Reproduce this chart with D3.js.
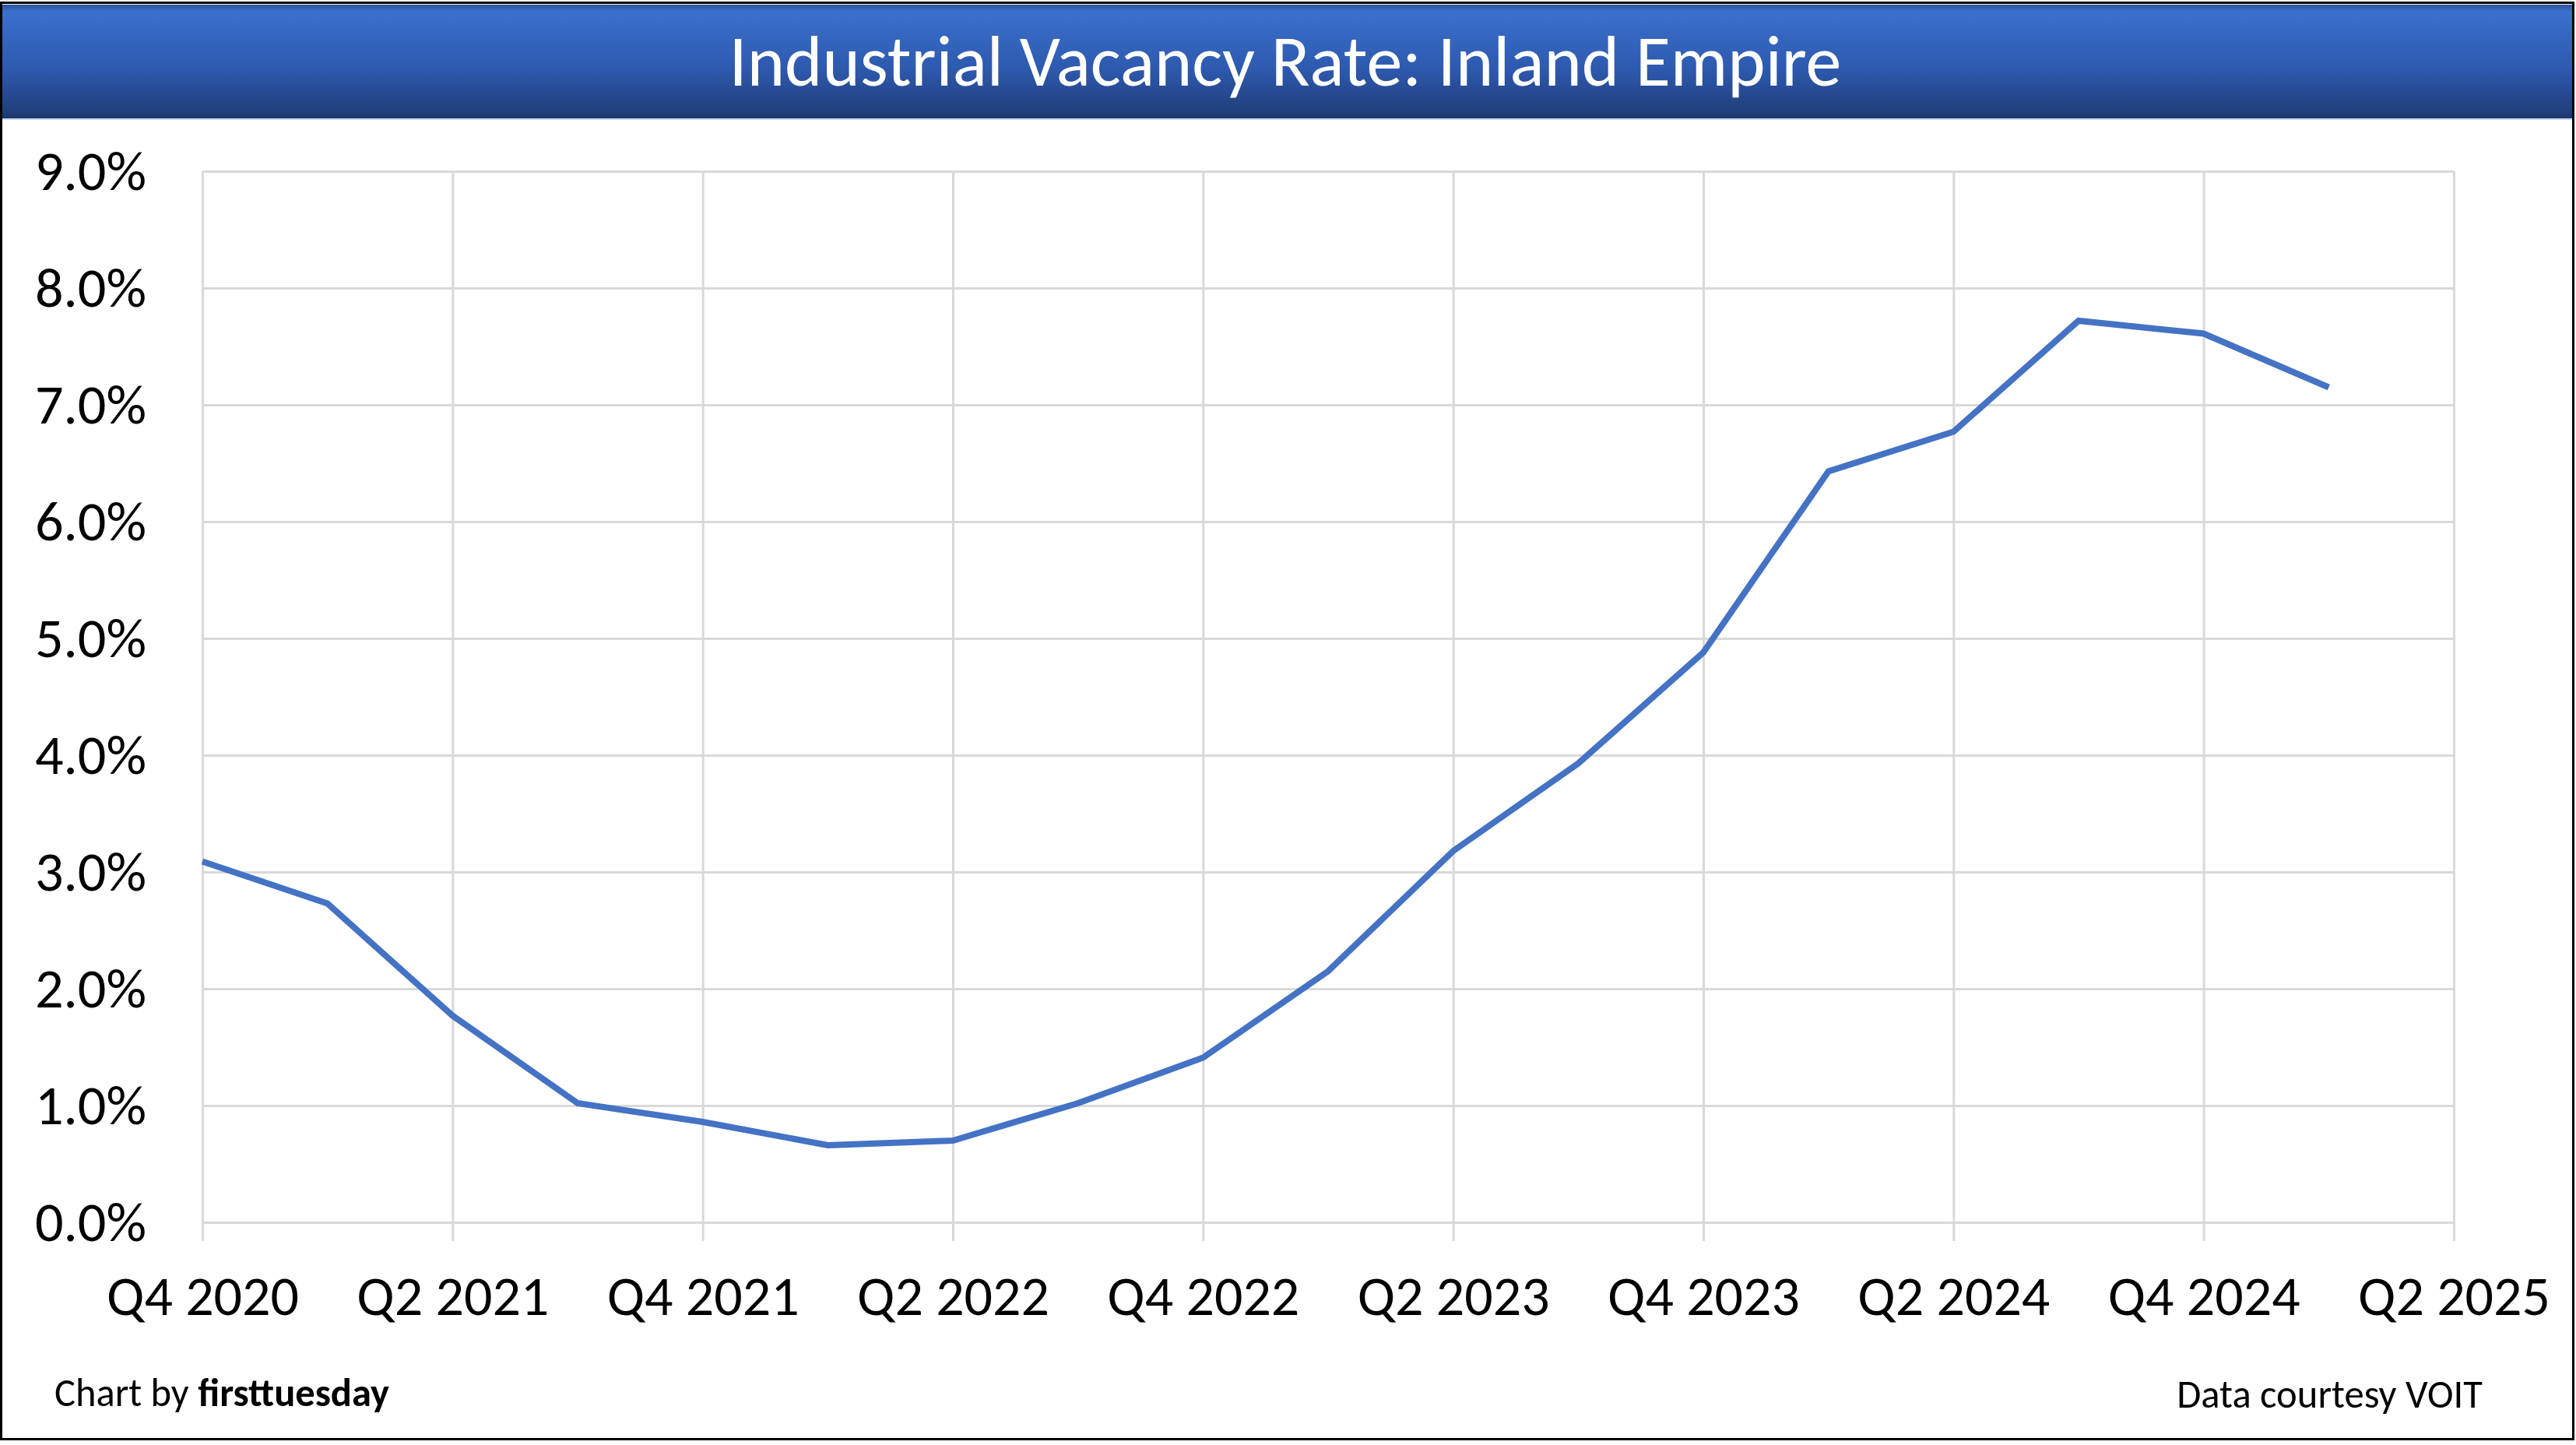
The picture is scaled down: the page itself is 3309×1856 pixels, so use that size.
<!DOCTYPE html>
<html>
<head>
<meta charset="utf-8">
<script src="https://cdn.jsdelivr.net/npm/d3@7/dist/d3.min.js"></script>
<style>
  html, body { margin: 0; padding: 0; background: #ffffff; }
  svg { display: block; }
  text { font-family: Carlito, Calibri, Lato, "Open Sans", sans-serif; }
</style>
</head>
<body>
<svg id="chart" width="3309" height="1856"></svg>
<script>
// ---- Data ----
const quarters = ["Q4 2020","Q1 2021","Q2 2021","Q3 2021","Q4 2021","Q1 2022","Q2 2022","Q3 2022",
                  "Q4 2022","Q1 2023","Q2 2023","Q3 2023","Q4 2023","Q1 2024","Q2 2024","Q3 2024",
                  "Q4 2024","Q1 2025","Q2 2025"];
const vacancy = [3.09, 2.73, 1.77, 1.02, 0.86, 0.66, 0.70, 1.02, 1.41, 2.15, 3.18, 3.93, 4.88,
                 6.43, 6.77, 7.72, 7.61, 7.15];
const xTickLabels = ["Q4 2020","Q2 2021","Q4 2021","Q2 2022","Q4 2022","Q2 2023","Q4 2023","Q2 2024","Q4 2024","Q2 2025"];
const yTicks = [0,1,2,3,4,5,6,7,8,9];
const titleText = "Industrial Vacancy Rate: Inland Empire";
const creditLeft = ["Chart by ", "firsttuesday"];
const creditRight = "Data courtesy VOIT";

// ---- Layout ----
const W = 3309, H = 1856;
const plot = { left: 260, right: 3152, top: 220, bottom: 1570 };
const svg = d3.select("#chart");

const defs = svg.append("defs");
const grad = defs.append("linearGradient").attr("id","bar").attr("x1",0).attr("y1",0).attr("x2",0).attr("y2",1);
grad.append("stop").attr("offset","0%").attr("stop-color","#2d5294");
grad.append("stop").attr("offset","6%").attr("stop-color","#3a70cd");
grad.append("stop").attr("offset","55%").attr("stop-color","#2e5ab0");
grad.append("stop").attr("offset","94%").attr("stop-color","#213f7c");
grad.append("stop").attr("offset","100%").attr("stop-color","#1c366c");

svg.append("rect").attr("x",0).attr("y",0).attr("width",W).attr("height",H).attr("fill","#ffffff");
svg.append("rect").attr("x",2).attr("y",6).attr("width",3304).attr("height",146).attr("fill","url(#bar)");
svg.append("line").attr("x1",2).attr("x2",3306).attr("y1",153).attr("y2",153).attr("stroke","#c9d6ee").attr("stroke-width",2);

function fitWidth(sel, target) {
  const w = sel.node().getComputedTextLength();
  const fs = parseFloat(sel.attr("font-size"));
  sel.attr("font-size", fs * target / w);
  return fs * target / w;
}

const title = svg.append("text")
  .attr("x", 1651).attr("y", 110)
  .attr("text-anchor","middle").attr("fill","#ffffff")
  .attr("font-size", 80).text(titleText);
fitWidth(title, 1429);

// ---- Scales ----
const x = d3.scalePoint().domain(quarters).range([plot.left, plot.right]);
const y = d3.scaleLinear().domain([0, 9]).range([plot.bottom, plot.top]);

// measure label font sizes
const probeX = svg.append("text").attr("font-size",64).text("Q4 2020");
const fsX = fitWidth(probeX, 247); probeX.remove();
const probeY = svg.append("text").attr("font-size",64).text("9.0%");
const fsY = fitWidth(probeY, 143); probeY.remove();

// ---- Y axis & horizontal grid ----
const yAxis = svg.append("g")
  .attr("transform", `translate(${plot.left},0)`)
  .call(d3.axisLeft(y).tickValues(yTicks)
        .tickSize(-(plot.right - plot.left))
        .tickPadding(72)
        .tickFormat(d => d.toFixed(1) + "%"));
yAxis.select(".domain").remove();
yAxis.selectAll(".tick line").attr("stroke","#d9d9d9").attr("stroke-width",3);
yAxis.selectAll(".tick text").attr("fill","#000").attr("font-size",fsY)
  .attr("font-family","Carlito, Calibri, Lato, sans-serif");

// ---- X axis & vertical grid ----
const xAxisY = plot.bottom + 24;
const xAxis = svg.append("g")
  .attr("transform", `translate(0,${xAxisY})`)
  .call(d3.axisBottom(x).tickValues(xTickLabels)
        .tickSize(-(xAxisY - plot.top))
        .tickPadding(44));
xAxis.select(".domain").remove();
xAxis.selectAll(".tick line").attr("stroke","#d9d9d9").attr("stroke-width",3);
xAxis.selectAll(".tick text").attr("fill","#000").attr("font-size",fsX)
  .attr("font-family","Carlito, Calibri, Lato, sans-serif");

// ---- Line ----
const line = d3.line()
  .x((d, i) => x(quarters[i]))
  .y(d => y(d));
svg.append("path").datum(vacancy)
  .attr("d", line)
  .attr("fill","none")
  .attr("stroke","#4472c4")
  .attr("stroke-width",8)
  .attr("stroke-linejoin","miter");

// ---- Credits ----
const cl = svg.append("text").attr("x",70).attr("y",1806).attr("font-size",46).attr("fill","#000");
cl.append("tspan").text(creditLeft[0]);
cl.append("tspan").attr("font-weight","bold").text(creditLeft[1]);
fitWidth(cl, 430);

const cr = svg.append("text").attr("x",3189).attr("y",1808).attr("text-anchor","end")
  .attr("font-size",46).attr("fill","#000").text(creditRight);
fitWidth(cr, 393);

// ---- Outer frame ----
svg.append("rect").attr("x",1.5).attr("y",3.5).attr("width",3304).attr("height",1845)
  .attr("fill","none").attr("stroke","#000").attr("stroke-width",3);
</script>
</body>
</html>
